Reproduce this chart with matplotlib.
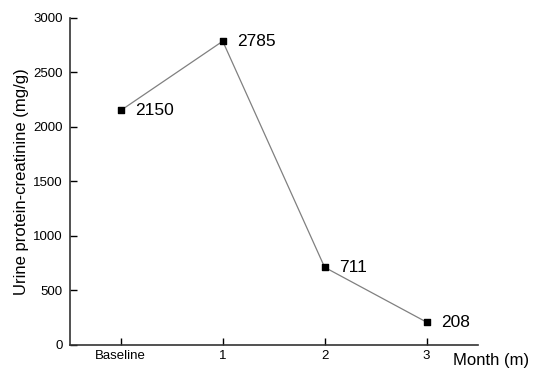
import matplotlib
matplotlib.use("Agg")
import matplotlib.pyplot as plt

plt.rcParams["font.family"] = ["Liberation Sans", "DejaVu Sans"]

labels = ["Baseline", "1", "2", "3"]
values = [2150, 2785, 711, 208]
x = list(range(len(labels)))

fig = plt.figure(figsize=(5.33, 3.7), dpi=100)
ax = fig.add_axes([0.131, 0.068, 0.765, 0.884])

ax.plot(x, values, color="#808080", lw=0.9, zorder=1)
ax.scatter(x, values, marker="s", s=25, color="black", zorder=2)
for xi, v in zip(x, values):
    ax.annotate(str(v), (xi, v), xytext=(10.5, 0), textcoords="offset points",
                va="center", ha="left", fontsize=12.5)

ax.set_xlim(-0.5, 3.5)
ax.set_ylim(0, 3000)
ax.set_xticks(x)
ax.set_xticklabels(labels, fontsize=9.5)
ax.set_yticks(range(0, 3001, 500))
ax.tick_params(axis="y", labelsize=9.5, direction="in", length=5, width=1, pad=5)
ax.tick_params(axis="x", direction="in", length=5, width=1, pad=4)
for s in ["top", "right"]:
    ax.spines[s].set_visible(False)
for s in ["left", "bottom"]:
    ax.spines[s].set_linewidth(1.2)
    ax.spines[s].set_color("#333333")

ax.set_ylabel("Urine protein-creatinine (mg/g)", fontsize=12, labelpad=3)
ax.text(0.939, -0.047, "Month (m)", transform=ax.transAxes, ha="left", va="center",
        fontsize=12)

fig.savefig("out.png", dpi=100)
